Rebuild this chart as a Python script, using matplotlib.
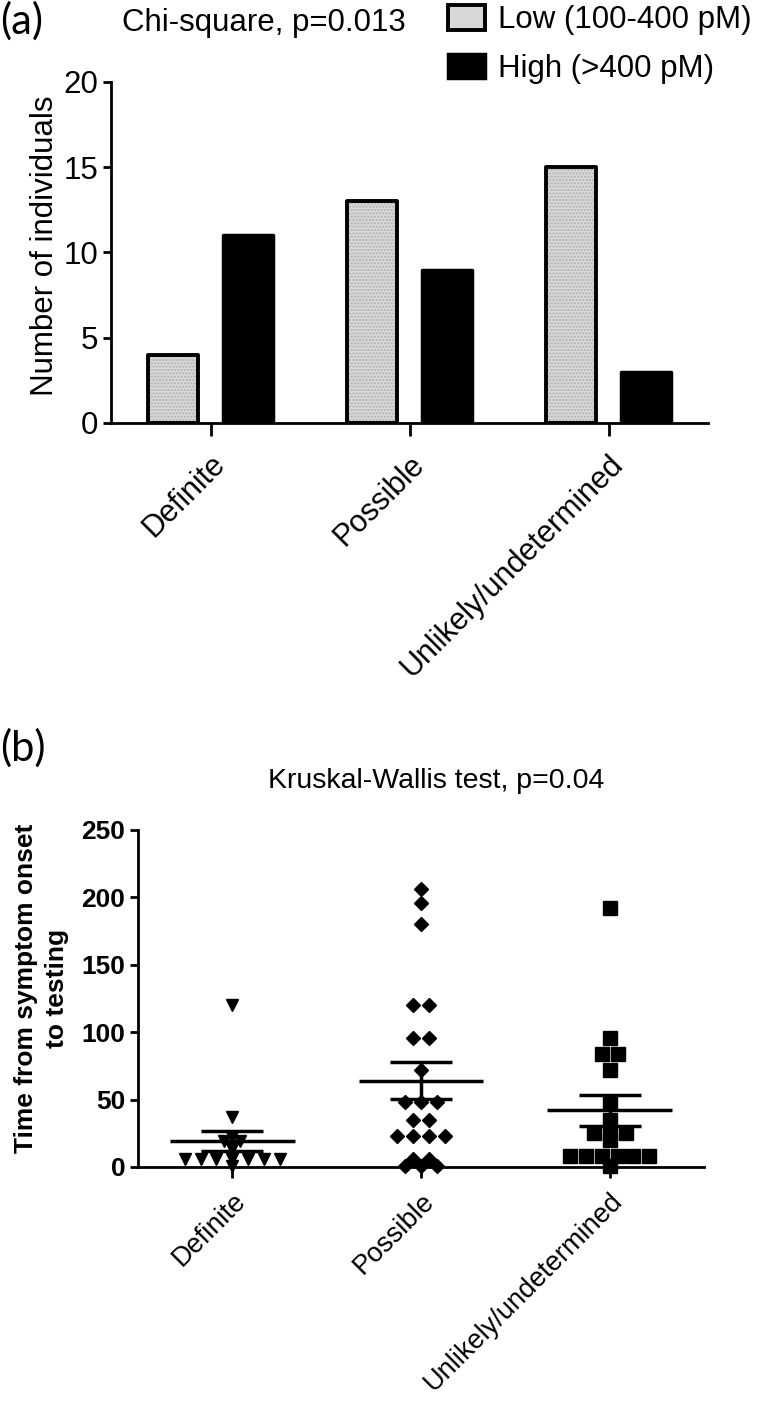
import numpy as np
import matplotlib
matplotlib.use("Agg")
import matplotlib.pyplot as plt
from matplotlib.patches import Patch

plt.rcParams['font.family'] = ['Liberation Sans', 'DejaVu Sans']

categories = ["Definite", "Possible", "Unlikely/undetermined"]
low_counts = [4, 13, 15]
high_counts = [11, 9, 3]
legend_labels = ["Low (100-400 pM)", "High (>400 pM)"]

# days from symptom onset to testing
definite_days = [120, 37, 22, 19, 19, 14, 13, 6, 6, 6, 6, 6, 6, 6, 1]
possible_days = [206, 196, 180, 120, 120, 96, 96, 72, 48, 48, 48,
                 35, 35, 23, 23, 23, 23, 6, 6, 1, 1, 1]
unlikely_days = [192, 96, 84, 84, 72, 48, 35, 25, 25, 25, 20,
                 8, 8, 8, 8, 8, 8, 1]
group_markers = ['v', 'D', 's']
group_sizes = [9, 7.5, 9.5]

W, H = 760, 1409
fig = plt.figure(figsize=(W / 100, H / 100), dpi=100)


def fig_box(left, top, right, bottom):
    # pixel box -> figure fraction [l, b, w, h]
    return [left / W, 1 - bottom / H, (right - left) / W, (bottom - top) / H]


def row_offsets(values, step):
    # spread equal values side by side, centred on the category
    values = np.asarray(values, float)
    offs = np.zeros(len(values))
    for v in np.unique(values):
        idx = np.where(values == v)[0]
        offs[idx] = (np.arange(len(idx)) - (len(idx) - 1) / 2) * step
    return offs


def style_axes(ax):
    for s in ['top', 'right']:
        ax.spines[s].set_visible(False)
    for s in ['left', 'bottom']:
        ax.spines[s].set_linewidth(2)
    ax.tick_params(width=2, length=6, direction='out')


# ---------------- panel (a) ----------------
ax1 = fig.add_axes(fig_box(111, 82, 708, 423))
x = np.arange(len(categories))
bw = 0.25
ax1.bar(x - 0.19, low_counts, bw, color='#d8d8d8', edgecolor='#b0b0b0',
        hatch='.....', linewidth=0, zorder=2)
ax1.bar(x - 0.19, low_counts, bw, fill=False, edgecolor='black',
        linewidth=2.8, joinstyle='round', zorder=3)
ax1.bar(x + 0.19, high_counts, bw, color='black', edgecolor='black',
        linewidth=2.5, joinstyle='round', zorder=3)
ax1.set_xlim(-0.5, 2.5)
ax1.set_ylim(0, 20)
ax1.set_yticks([0, 5, 10, 15, 20])
style_axes(ax1)
ax1.tick_params(axis='y', labelsize=22.5, pad=3)
ax1.tick_params(axis='x', length=9, pad=10)
ax1.set_xticks(x)
ax1.set_xticklabels(categories, rotation=45, ha='right',
                    rotation_mode='anchor', fontsize=22)
ax1.set_ylabel("Number of individuals", fontsize=22.5)
ax1.yaxis.set_label_coords(-0.085, 0.52)

handles = [Patch(facecolor='#d8d8d8', edgecolor='black', linewidth=2.8),
           Patch(facecolor='black', edgecolor='black', linewidth=2.5)]
fig.legend(handles, legend_labels, loc='upper left',
           bbox_to_anchor=(448 / W, 1 - 5 / H), frameon=False,
           fontsize=22.5, handlelength=1.17, handleheight=0.83,
           handletextpad=0.44, labelspacing=0.6, borderpad=0,
           borderaxespad=0)

fig.text(264 / W, 1 - 23 / H, "Chi-square, p=0.013", ha='center',
         va='center', fontsize=22.5)
fig.text(0.0, 1 - 1 / H, "(a)", ha='left', va='top', fontsize=30,
         family=['Lato', 'DejaVu Sans'])

# ---------------- panel (b) ----------------
ax2 = fig.add_axes(fig_box(138, 830, 704, 1167))
groups = [definite_days, possible_days, unlikely_days]
for i, vals in enumerate(groups):
    xs = i + row_offsets(vals, 0.084)
    ax2.plot(xs, vals, linestyle='none', marker=group_markers[i],
             ms=group_sizes[i], color='black', clip_on=False, zorder=3)
    m = np.mean(vals)
    sem = np.std(vals, ddof=1) / np.sqrt(len(vals))
    ax2.hlines(m, i - 0.33, i + 0.33, color='black', lw=2.5, zorder=4)
    ax2.hlines([m - sem, m + sem], i - 0.165, i + 0.165, color='black',
               lw=2.5, zorder=4)
    ax2.vlines(i, m - sem, m + sem, color='black', lw=2.5, zorder=4)

ax2.set_xlim(-0.5, 2.5)
ax2.set_ylim(0, 250)
ax2.set_yticks([0, 50, 100, 150, 200, 250])
style_axes(ax2)
ax2.tick_params(axis='y', labelsize=19, pad=3)
for lab in ax2.get_yticklabels():
    lab.set_fontweight('bold')
ax2.tick_params(axis='x', length=8, pad=7)
ax2.set_xticks(x)
ax2.set_xticklabels(categories, rotation=45, ha='right',
                    rotation_mode='anchor', fontsize=19.5)
ax2.set_ylabel("Time from symptom onset\nto testing", fontsize=19,
               fontweight='bold', linespacing=1.35)
ax2.yaxis.set_label_coords(-0.122, 0.53)

fig.text(436 / W, 1 - 781 / H, "Kruskal-Wallis test, p=0.04", ha='center',
         va='center', fontsize=20.5)
fig.text(0.0, 1 - 728 / H, "(b)", ha='left', va='top', fontsize=30,
         family=['Lato', 'DejaVu Sans'])

fig.savefig("out.png", dpi=100)
